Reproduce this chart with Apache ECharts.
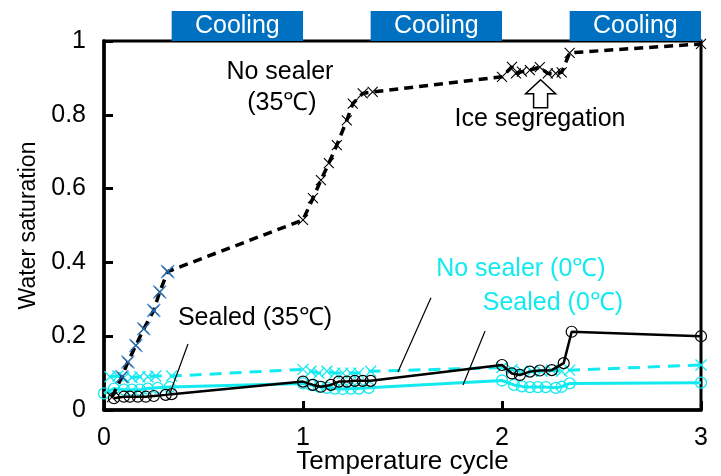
<!DOCTYPE html>
<html>
<head>
<meta charset="utf-8">
<script src="https://cdn.jsdelivr.net/npm/echarts@6/dist/echarts.min.js"></script>
<style>
html, body { margin: 0; padding: 0; background: #fff; }
#chart { width: 721px; height: 476px; }
</style>
</head>
<body>
<div id="chart"></div>
<script>
// values
var noSealer35X = [0.04, 0.09, 0.12, 0.16, 0.2, 0.25, 0.28, 0.32, 1.0, 1.05, 1.09, 1.13, 1.17, 1.22, 1.25, 1.3, 1.35, 2.0, 2.05, 2.07, 2.1, 2.14, 2.19, 2.23, 2.27, 2.3, 2.34, 3.0]
var noSealer35Y = [0.035, 0.09, 0.13, 0.175, 0.22, 0.27, 0.32, 0.375, 0.515, 0.574, 0.623, 0.669, 0.718, 0.785, 0.83, 0.858, 0.862, 0.903, 0.93, 0.912, 0.917, 0.921, 0.929, 0.912, 0.912, 0.915, 0.968, 0.992]

var sealed35X = [0.05, 0.1, 0.13, 0.17, 0.21, 0.25, 0.31, 0.34, 1.0, 1.05, 1.09, 1.14, 1.18, 1.22, 1.26, 1.3, 1.34, 2.0, 2.05, 2.09, 2.14, 2.19, 2.25, 2.31, 2.35, 3.0]
var sealed35Y = [0.032, 0.036, 0.036, 0.036, 0.036, 0.038, 0.041, 0.043, 0.077, 0.068, 0.063, 0.068, 0.077, 0.077, 0.079, 0.079, 0.079, 0.122, 0.099, 0.095, 0.104, 0.107, 0.108, 0.127, 0.212, 0.2]

var noSealer0X = [0.03, 0.07, 0.1, 0.14, 0.18, 0.22, 0.26, 0.34, 1.0, 1.04, 1.08, 1.12, 1.16, 1.2, 1.24, 1.28, 1.34, 2.0, 2.05, 2.1, 2.15, 2.2, 2.25, 2.3, 2.34, 3.0]
var noSealer0Y = [0.09, 0.092, 0.088, 0.088, 0.09, 0.09, 0.092, 0.092, 0.11, 0.105, 0.1, 0.105, 0.1, 0.1, 0.1, 0.1, 0.105, 0.115, 0.11, 0.105, 0.105, 0.105, 0.108, 0.105, 0.108, 0.122]

var sealed0X = [0.0, 0.05, 0.1, 0.14, 0.18, 0.22, 0.27, 0.33, 1.0, 1.04, 1.08, 1.12, 1.16, 1.2, 1.24, 1.28, 1.33, 2.0, 2.06, 2.1, 2.14, 2.18, 2.22, 2.27, 2.3, 2.34, 3.0]
var sealed0Y = [0.045, 0.058, 0.055, 0.055, 0.055, 0.058, 0.06, 0.062, 0.072, 0.068, 0.063, 0.06, 0.058, 0.057, 0.058, 0.058, 0.06, 0.08, 0.068, 0.064, 0.062, 0.062, 0.062, 0.06, 0.063, 0.072, 0.074]

// cooling periods (temperature cycle)
var coolingStart = [0.34, 1.34, 2.34]
var coolingEnd = [1, 2, 3]
var coolingLabel = 'Cooling'

function zip(xs, ys) {
  return xs.map(function(x, i) { return [x, ys[i]] })
}

var FONT = 'Liberation Sans, Arial, sans-serif'
var CYAN = '#12EAF0'
var CROSS = 'path://M0,0L10,10M10,0L0,10'

var myChart = echarts.init(document.getElementById('chart'), null, { renderer: 'canvas' })

var option = {
  animation: false,
  backgroundColor: '#fff',
  grid: {
    left: 104,
    right: 20,
    top: 41,
    bottom: 66,
    containLabel: false,
    outerBoundsMode: 'none',
    show: true,
    borderColor: '#000',
    borderWidth: 3
  },
  xAxis: {
    type: 'value',
    min: 0,
    max: 3,
    interval: 1,
    name: 'Temperature cycle',
    nameLocation: 'middle',
    nameGap: 39,
    nameMoveOverlap: false,
    nameTextStyle: { fontFamily: FONT, fontSize: 26, color: '#000', verticalAlign: 'top' },
    axisLine: { lineStyle: { color: '#000', width: 3.5 } },
    axisTick: { inside: true, length: 9, lineStyle: { color: '#000', width: 3 } },
    axisLabel: { margin: 16, fontFamily: FONT, fontSize: 25, color: '#000' },
    splitLine: { show: false }
  },
  yAxis: {
    type: 'value',
    min: 0,
    max: 1,
    interval: 0.2,
    name: 'Water saturation',
    nameLocation: 'middle',
    nameGap: 62,
    nameTextStyle: { fontFamily: FONT, fontSize: 23, color: '#000' },
    axisLine: { lineStyle: { color: '#000', width: 3.5 } },
    axisTick: { inside: true, length: 9, lineStyle: { color: '#000', width: 3 } },
    axisLabel: { margin: 18, fontFamily: FONT, fontSize: 25, color: '#000' },
    splitLine: { show: false }
  },
  series: [
    {
      name: 'Sealed (0°C)',
      type: 'line',
      data: zip(sealed0X, sealed0Y),
      symbol: 'circle',
      symbolSize: 11,
      lineStyle: { color: CYAN, width: 3 },
      itemStyle: { color: 'transparent', borderColor: CYAN, borderWidth: 1.3 },
      z: 2
    },
    {
      name: 'No sealer (0°C)',
      type: 'line',
      data: zip(noSealer0X, noSealer0Y),
      symbol: CROSS,
      symbolSize: 11,
      lineStyle: { color: CYAN, width: 3, type: [12, 8] },
      itemStyle: { color: 'none', borderColor: CYAN, borderWidth: 1.3 },
      z: 3
    },
    {
      name: 'Sealed (35°C)',
      type: 'line',
      data: zip(sealed35X, sealed35Y),
      symbol: 'circle',
      symbolSize: 11,
      lineStyle: { color: '#000', width: 2.5 },
      itemStyle: { color: 'transparent', borderColor: '#000', borderWidth: 1.2 },
      z: 4
    },
    {
      name: 'No sealer (35°C)',
      type: 'line',
      data: zip(noSealer35X, noSealer35Y),
      symbol: CROSS,
      symbolSize: 10,
      lineStyle: { color: '#000', width: 3.5, type: [9, 6] },
      itemStyle: { color: 'none', borderColor: '#000', borderWidth: 1.1 },
      z: 5
    },
    {
      name: 'No sealer (35°C) first cycle',
      type: 'scatter',
      data: zip(noSealer35X.slice(1, 8), noSealer35Y.slice(1, 8)),
      symbol: CROSS,
      symbolSize: 13,
      itemStyle: { color: 'none', borderColor: '#2A7FD4', borderWidth: 1.5 },
      z: 7
    }
  ]
}
myChart.setOption(option)

// annotations placed from data coordinates
function px(x, y) {
  return myChart.convertToPixel({ gridIndex: 0 }, [x, y])
}

var graphics = []
var topY = px(0, 1)[1]
coolingStart.forEach(function(s, i) {
  var a = px(s, 1)
  var b = px(coolingEnd[i], 1)
  graphics.push({
    type: 'rect',
    shape: { x: a[0], y: topY - 30, width: b[0] - a[0], height: 30 },
    style: { fill: '#0070C0' },
    z: 10
  })
  graphics.push({
    type: 'text',
    x: (a[0] + b[0]) / 2,
    y: topY - 15,
    style: { text: coolingLabel, fill: '#fff', font: '25px ' + FONT, align: 'center', verticalAlign: 'middle' },
    z: 11
  })
})

function addText(x, y, txt, color) {
  var p = px(x, y)
  graphics.push({
    type: 'text',
    x: p[0],
    y: p[1],
    style: { text: txt, fill: color, font: '25px ' + FONT, align: 'center', verticalAlign: 'middle' },
    z: 12
  })
}
function addLeader(x1, y1, x2, y2) {
  var a = px(x1, y1)
  var b = px(x2, y2)
  graphics.push({
    type: 'line',
    shape: { x1: a[0], y1: a[1], x2: b[0], y2: b[1] },
    style: { stroke: '#000', lineWidth: 1.2 },
    z: 12
  })
}

addText(0.884, 0.916, 'No sealer', '#000')
addText(0.894, 0.832, '(35℃)', '#000')
addText(2.191, 0.789, 'Ice segregation', '#000')
addText(0.759, 0.249, 'Sealed (35℃)', '#000')
addText(2.095, 0.382, 'No sealer (0℃)', CYAN)
addText(2.256, 0.29, 'Sealed (0℃)', CYAN)

addLeader(0.422, 0.179, 0.332, 0.046)
addLeader(1.643, 0.304, 1.477, 0.103)
addLeader(1.915, 0.214, 1.804, 0.068)

// hollow up arrow under the ice segregation plateau
var tip = px(2.194, 0.895)
graphics.push({
  type: 'polygon',
  shape: {
    points: [
      [tip[0], tip[1]],
      [tip[0] + 15, tip[1] + 14],
      [tip[0] + 7, tip[1] + 14],
      [tip[0] + 7, tip[1] + 28],
      [tip[0] - 7, tip[1] + 28],
      [tip[0] - 7, tip[1] + 14],
      [tip[0] - 15, tip[1] + 14]
    ]
  },
  style: { fill: '#fff', stroke: '#000', lineWidth: 1.5 },
  z: 12
})

myChart.setOption({ graphic: graphics })

window.addEventListener('resize', () => {
  myChart.resize()
})
</script>
</body>
</html>
